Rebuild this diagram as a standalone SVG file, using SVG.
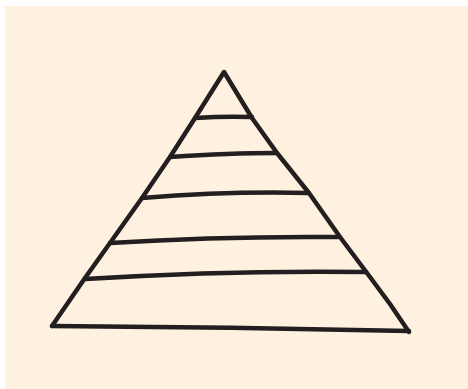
<svg xmlns="http://www.w3.org/2000/svg" width="468" height="389" viewBox="0 0 468 389">
<style>
.ink{fill:none;stroke:#231f20;stroke-width:4.5;stroke-linecap:round;stroke-linejoin:round}
</style>
<rect x="0" y="0" width="468" height="389" fill="#ffffff"/>
<rect x="5" y="6" width="463" height="383" fill="#fef1df"/>
<g id="pyramid">
<path class="ink" d="M52,326 L85,278 L110,243 L142,198 L170,157 L195,118 L224,72 L252,118 L277,153 L309,193 L340,237 L367,273 L390,304 L409,332"/>
<path class="ink" d="M195,118 Q225,116 252,117"/>
<path class="ink" d="M170,157 Q230,153 276,153"/>
<path class="ink" d="M142,198 Q230,191 308,193"/>
<path class="ink" d="M110,243 Q220,236 338,237"/>
<path class="ink" d="M85,279 Q230,270 366,272"/>
<path class="ink" d="M52,326 Q230,327 409,331"/>
</g>
</svg>
